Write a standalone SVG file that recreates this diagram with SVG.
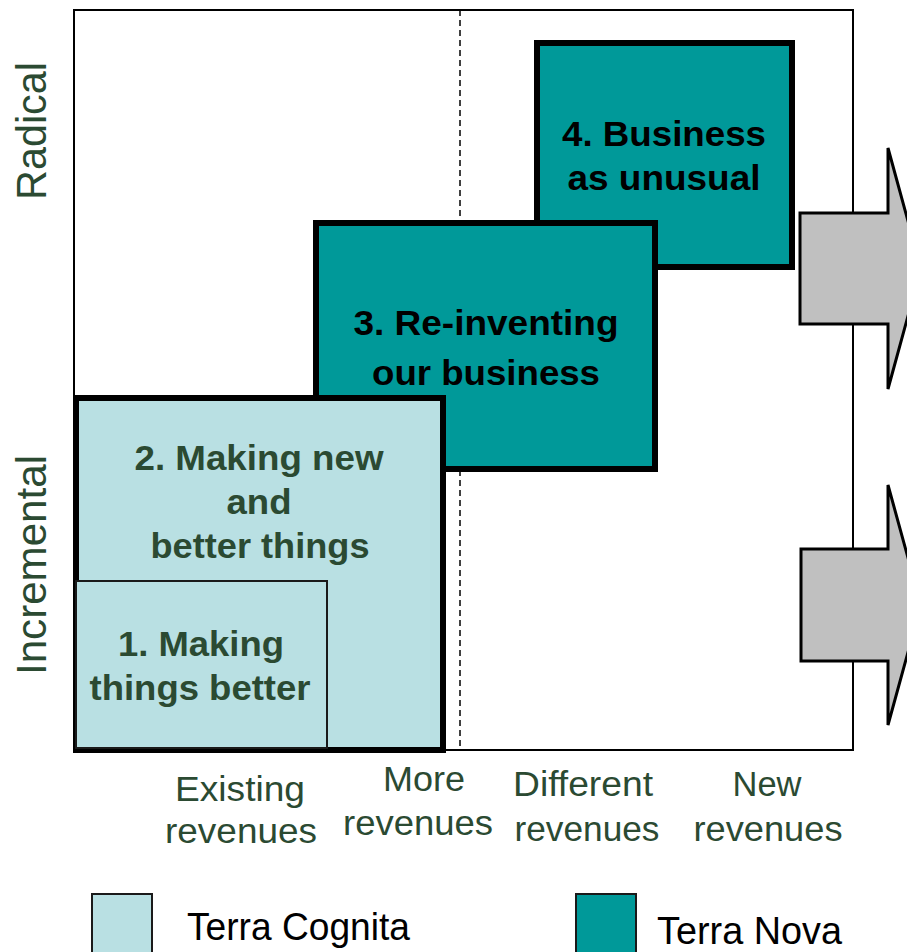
<svg xmlns="http://www.w3.org/2000/svg" width="907" height="952" viewBox="0 0 907 952">
<style>
.bx{stroke:#000;stroke-width:6}
.tc{fill:#b9e0e3}
.tn{fill:#009999}
.bt{font-family:"Liberation Sans",Arial,sans-serif;font-weight:bold;font-size:35px;text-anchor:middle}
.g{fill:#2b4a32}
.k{fill:#000}
.ax{font-family:"Liberation Sans",Arial,sans-serif;font-size:35px;text-anchor:middle;fill:#2b4a32}
.ay{font-family:"Liberation Sans",Arial,sans-serif;font-size:42px;text-anchor:middle;fill:#2b4a32}
.lg{font-family:"Liberation Sans",Arial,sans-serif;font-size:38px;fill:#000}
.arr{fill:#c0c0c0;stroke:#000;stroke-width:3;stroke-linejoin:miter}
</style>
<rect width="907" height="952" fill="#fff"/>
<g id="frame">
<rect x="74" y="10" width="779" height="740" fill="none" stroke="#000" stroke-width="2"/>
<line x1="460" y1="10" x2="460" y2="750" stroke="#000" stroke-width="1.5" stroke-dasharray="6,4"/>
</g>
<g id="connectors">
<polygon class="arr" points="800,213 888,213 888,148 921,268.5 888,389 888,324 800,324"/>
<polygon class="arr" points="801,549 888,549 888,485 921,605 888,725 888,661 801,661"/>
</g>
<g id="box4">
<rect class="bx tn" x="537" y="43" width="255" height="224"/>
<text class="bt k" x="664" y="146" textLength="204" lengthAdjust="spacingAndGlyphs">4. Business</text>
<text class="bt k" x="664" y="190" textLength="193" lengthAdjust="spacingAndGlyphs">as unusual</text>
</g>
<g id="box3">
<rect class="bx tn" x="316" y="223" width="339" height="246"/>
<text class="bt k" x="486" y="335" textLength="265" lengthAdjust="spacingAndGlyphs">3. Re-inventing</text>
<text class="bt k" x="486" y="385" textLength="228" lengthAdjust="spacingAndGlyphs">our business</text>
</g>
<g id="box2">
<rect class="bx tc" x="76" y="398" width="367" height="352"/>
<text class="bt g" x="259" y="470" textLength="249" lengthAdjust="spacingAndGlyphs">2. Making new</text>
<text class="bt g" x="259" y="514" textLength="65" lengthAdjust="spacingAndGlyphs">and</text>
<text class="bt g" x="260" y="558" textLength="219" lengthAdjust="spacingAndGlyphs">better things</text>
</g>
<g id="box1">
<rect class="tc" x="76" y="581" width="251" height="167" stroke="#1a1a1a" stroke-width="2"/>
<text class="bt g" x="201" y="656" textLength="166" lengthAdjust="spacingAndGlyphs">1. Making</text>
<text class="bt g" x="200" y="700" textLength="221" lengthAdjust="spacingAndGlyphs">things better</text>
</g>
<g id="yaxis">
<text class="ay" transform="translate(46,131) rotate(-90)" textLength="138" lengthAdjust="spacingAndGlyphs">Radical</text>
<text class="ay" transform="translate(46,565) rotate(-90)" textLength="220" lengthAdjust="spacingAndGlyphs">Incremental</text>
</g>
<g id="xaxis">
<text class="ax" x="240" y="801" textLength="130" lengthAdjust="spacingAndGlyphs">Existing</text>
<text class="ax" x="241" y="843" textLength="152" lengthAdjust="spacingAndGlyphs">revenues</text>
<text class="ax" x="424" y="791" textLength="82" lengthAdjust="spacingAndGlyphs">More</text>
<text class="ax" x="418" y="835" textLength="150" lengthAdjust="spacingAndGlyphs">revenues</text>
<text class="ax" x="583" y="796" textLength="140" lengthAdjust="spacingAndGlyphs">Different</text>
<text class="ax" x="587" y="841" textLength="145" lengthAdjust="spacingAndGlyphs">revenues</text>
<text class="ax" x="767" y="796" textLength="69" lengthAdjust="spacingAndGlyphs">New</text>
<text class="ax" x="768" y="841" textLength="149" lengthAdjust="spacingAndGlyphs">revenues</text>
</g>
<g id="legend-cognita">
<rect class="tc" x="92" y="894" width="60" height="70" stroke="#1a1a1a" stroke-width="2"/>
<text class="lg" x="187" y="940" textLength="223" lengthAdjust="spacingAndGlyphs">Terra Cognita</text>
</g>
<g id="legend-nova">
<rect class="tn" x="576" y="894" width="60" height="70" stroke="#1a1a1a" stroke-width="2"/>
<text class="lg" x="657" y="944" textLength="185" lengthAdjust="spacingAndGlyphs">Terra Nova</text>
</g>
</svg>
